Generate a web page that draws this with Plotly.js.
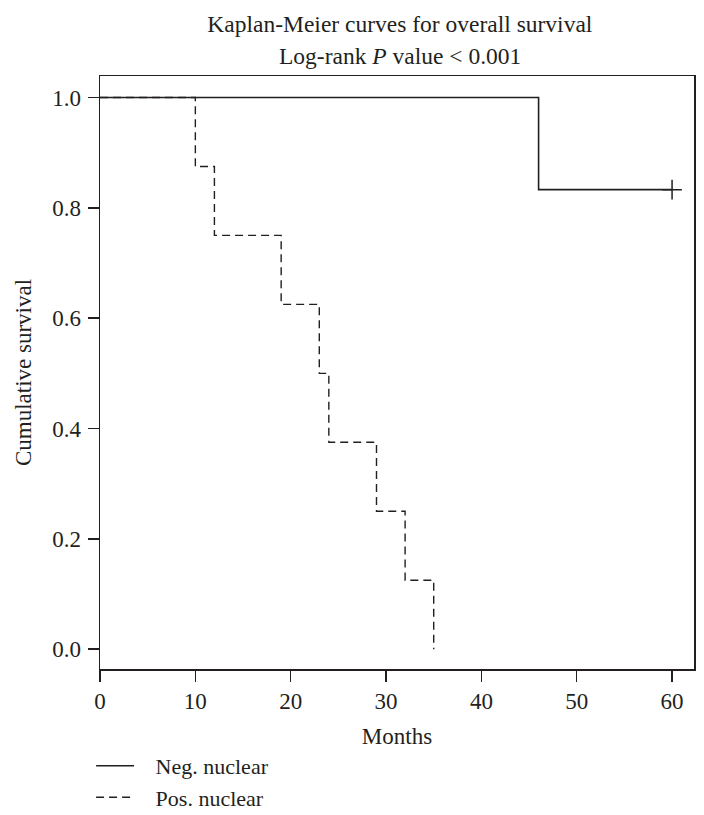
<!DOCTYPE html>
<html>
<head>
<meta charset="utf-8">
<script src="https://cdn.plot.ly/plotly-3.0.1.min.js"></script>
<style>html,body{margin:0;padding:0;background:#fff;}#chart{width:704px;height:815px;}</style>
</head>
<body>
<div id="chart"></div>
<script>
// Data (months, cumulative survival)
const negMonths = [0, 46, 60];
const negSurvival = [1.0, 0.833, 0.833];
const negCensorMonths = [60];
const negCensorSurvival = [0.833];

const posMonths = [0, 10, 12, 19, 23, 24, 29, 32, 35];
const posSurvival = [1.0, 0.875, 0.75, 0.625, 0.5, 0.375, 0.25, 0.125, 0.0];

const seriesNames = ["Neg. nuclear", "Pos. nuclear"];
const xTicks = [0, 10, 20, 30, 40, 50, 60];
const yTicks = [0.0, 0.2, 0.4, 0.6, 0.8, 1.0];

const titleLine1 = "Kaplan-Meier curves for overall survival";
const titleLine2 = "Log-rank <i>P</i> value &lt; 0.001";

const FONT = "Liberation Serif, Times New Roman, serif";
const INK = "#231f20";
const FS = 23;
const PAD = "\u00a0\u00a0\u00a0";

const traces = [
  {
    x: posMonths, y: posSurvival, name: PAD + seriesNames[1], type: "scatter", mode: "lines",
    line: {shape: "hv", color: INK, width: 1.4, dash: "8px,5px"}, legendrank: 2
  },
  {
    x: negMonths, y: negSurvival, name: PAD + seriesNames[0], type: "scatter", mode: "lines",
    line: {shape: "hv", color: INK, width: 1.6}, legendrank: 1
  },
  {
    x: negCensorMonths, y: negCensorSurvival, type: "scatter", mode: "markers", showlegend: false,
    marker: {symbol: "cross-thin", size: 14, line: {color: INK, width: 1.5}}
  }
];

const axisCommon = {
  showgrid: false, zeroline: false, showline: true, mirror: true,
  linecolor: INK, linewidth: 1.5, ticks: "outside", ticklen: 11, tickwidth: 1.5, tickcolor: INK,
  tickfont: {family: FONT, size: FS, color: INK}
};

const layout = {
  width: 704, height: 815,
  margin: {l: 100, r: 10, t: 76, b: 146, autoexpand: false},
  paper_bgcolor: "#fff", plot_bgcolor: "#fff",
  font: {family: FONT, size: FS, color: INK},
  title: {text: titleLine1, font: {family: FONT, size: 23.5, color: INK}, x: 0.568, xanchor: "center", y: 0.9706, yanchor: "middle", yref: "container"},
  annotations: [
    {text: titleLine2, xref: "paper", yref: "paper", x: 0.505, y: 1.034, xanchor: "center", yanchor: "middle", showarrow: false, font: {family: FONT, size: 23.5, color: INK}}
  ],
  xaxis: Object.assign({}, axisCommon, {
    range: [0, 62.3], tickvals: xTicks, ticktext: xTicks.map(String),
    title: {text: "Months", font: {family: FONT, size: FS, color: INK}, standoff: 15}
  }),
  yaxis: Object.assign({}, axisCommon, {
    range: [-0.036, 1.039], tickvals: yTicks, ticktext: yTicks.map(v => v.toFixed(1)),
    ticklabelstandoff: 2,
    title: {text: "Cumulative survival", font: {family: FONT, size: FS, color: INK}, standoff: 14}
  }),
  showlegend: true,
  legend: {x: -0.015, y: -0.128, xanchor: "left", yanchor: "top", bgcolor: "rgba(0,0,0,0)", font: {family: FONT, size: 22, color: INK}, itemwidth: 38, traceorder: "normal"}
};

Plotly.newPlot("chart", traces, layout, {displayModeBar: false, staticPlot: true});
</script>
</body>
</html>
